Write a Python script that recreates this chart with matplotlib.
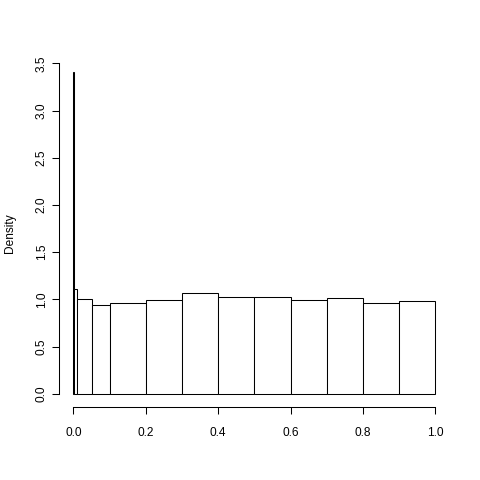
import matplotlib.pyplot as plt
import numpy as np

plt.rcParams['font.family'] = ['Liberation Sans', 'DejaVu Sans']

# unequal bin edges and their densities
breaks = [0, 0.001, 0.01, 0.05, 0.1, 0.2, 0.3, 0.4, 0.5, 0.6, 0.7, 0.8, 0.9, 1.0]
density = [3.41, 1.11, 1.00, 0.94, 0.96, 0.99, 1.07, 1.02, 1.02, 0.99, 1.01, 0.96, 0.98]
xticks = [0.0, 0.2, 0.4, 0.6, 0.8, 1.0]
yticks = [0.0, 0.5, 1.0, 1.5, 2.0, 2.5, 3.0, 3.5]

fig = plt.figure(figsize=(4.8, 4.8), dpi=100)
ax = fig.add_axes([59 / 480, 73.4 / 480, 390.8 / 480, 347.6 / 480])

left = np.array(breaks[:-1])
widths = np.diff(breaks)
ax.bar(left, density, width=widths, align='edge', color='white',
       edgecolor='black', linewidth=0.75)

ax.set_xlim(-0.04, 1.04)
ax.set_ylim(-0.04 * 3.41, 1.04 * 3.41)

for s in ['top', 'right']:
    ax.spines[s].set_visible(False)
ax.spines['bottom'].set_bounds(0, 1)
ax.spines['left'].set_bounds(0, 3.5)
ax.spines['bottom'].set_linewidth(0.75)
ax.spines['left'].set_linewidth(0.75)

ax.set_xticks(xticks)
ax.set_xticklabels([f"{v:.1f}" for v in xticks])
ax.set_yticks(yticks)
ax.set_yticklabels([f"{v:.1f}" for v in yticks], rotation=90, va='center')
ax.tick_params(axis='both', direction='out', length=5, width=0.75, labelsize=8.6)
ax.tick_params(axis='x', pad=10)
ax.tick_params(axis='y', pad=3)

ax.set_ylabel("Density", fontsize=8.6, labelpad=14)

fig.savefig("out.png", dpi=100)
